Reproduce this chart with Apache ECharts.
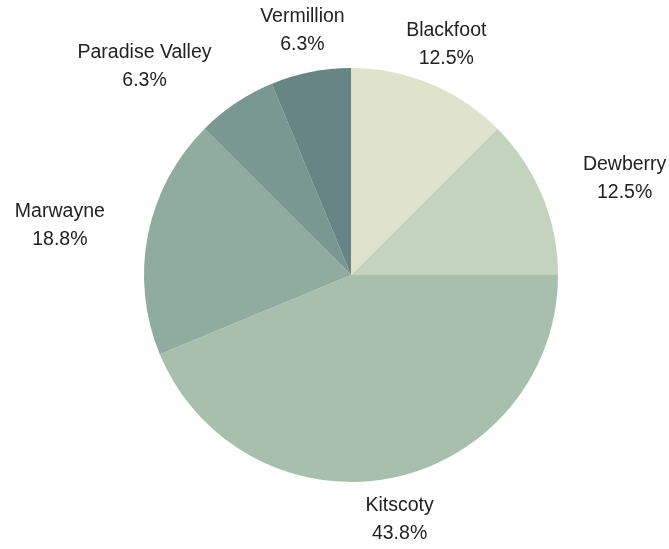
<!DOCTYPE html>
<html>
<head>
<meta charset="utf-8">
<style>html,body{margin:0;padding:0;background:#fff;}#c{width:669px;height:549px;}</style>
<script src="https://cdn.jsdelivr.net/npm/echarts@6/dist/echarts.min.js"></script>
</head>
<body>
<div id="c"></div>
<script>
const categories = ['Blackfoot', 'Dewberry', 'Kitscoty', 'Marwayne', 'Paradise Valley', 'Vermillion'];
const counts = [2, 2, 7, 3, 1, 1];
const colors = ['#dfe3cb', '#c4d3be', '#a8bfae', '#90ab9f', '#7a9792', '#678584'];

const CX = 351, CY = 275, R = 207, LABEL_R = 249, EDGE_R = 251;
const total = counts.reduce((a, b) => a + b, 0);
const midAngles = [];
let acc = 0;
counts.forEach(v => { midAngles.push((acc + v / 2) / total * 2 * Math.PI); acc += v; });

const chart = echarts.init(document.getElementById('c'), null, {renderer: 'canvas'});
chart.setOption({
  animation: false,
  series: [{
    type: 'pie',
    center: [CX, CY],
    radius: R,
    startAngle: 90,
    clockwise: true,
    avoidLabelOverlap: false,
    itemStyle: {borderWidth: 0},
    label: {
      show: true,
      position: 'outside',
      fontFamily: 'Liberation Sans, Arial, sans-serif',
      fontSize: 19.5,
      lineHeight: 28,
      color: '#222222',
      formatter: p => p.name + '\n' + (p.value / total * 100).toFixed(1) + '%'
    },
    labelLine: {show: false},
    labelLayout: function (params) {
      const a = midAngles[params.dataIndex];
      const s = Math.sin(a), c = -Math.cos(a);
      if (Math.abs(s) <= 0.45) {
        return {x: CX + s * LABEL_R, y: CY + c * LABEL_R, align: 'center', verticalAlign: 'middle'};
      }
      const w = params.labelRect.width;
      const ex = CX + s * EDGE_R, ey = CY + c * EDGE_R;
      return {x: ex + (s > 0 ? 1 : -1) * w / 2, y: ey, align: 'center', verticalAlign: 'middle'};
    },
    data: categories.map((n, i) => ({name: n, value: counts[i], itemStyle: {color: colors[i]}}))
  }]
});
</script>
</body>
</html>
